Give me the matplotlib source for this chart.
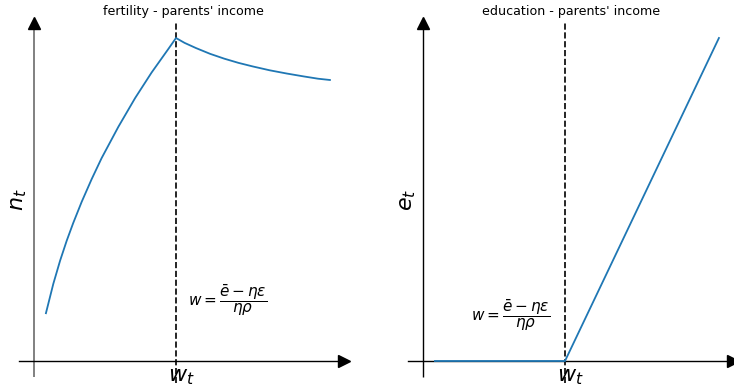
import matplotlib
matplotlib.use("Agg")
import matplotlib.pyplot as plt

# Threshold income w_t
w_threshold = 5.0

# Fertility as a function of parents' income
w_fert = [0.42, 0.68, 0.92, 1.15, 1.38, 1.68, 2.03, 2.38, 2.97, 3.56, 4.14,
          4.73, 5.0, 5.3, 5.7, 6.2, 6.7, 7.2, 7.7, 8.3, 8.9, 9.5, 10.0, 10.42]
n_fert = [1.48, 2.39, 3.11, 3.72, 4.27, 4.93, 5.63, 6.28, 7.25, 8.14, 8.93,
          9.66, 10.0, 9.85, 9.69, 9.51, 9.36, 9.23, 9.12, 9.0, 8.9, 8.81,
          8.74, 8.7]

# Education as a function of parents' income
w_edu = [0.42, 5.0, 10.42]
e_edu = [0.0, 0.0, 10.0]

titles = ["fertility - parents' income", "education - parents' income"]
ylabels = ["$n_t$", "$e_t$"]
xlabel = "$w_t$"
formula = r"$w=\dfrac{\bar{e}-\eta\varepsilon}{\eta\rho}$"

W, H = 734, 391
fig = plt.figure(figsize=(W / 100, H / 100), dpi=100)

px_x = 28.4   # pixels per income unit
px_y = 32.3   # pixels per outcome unit
origin_y = 361


def make_axes(x0_px, x1_px, origin_x_px):
    ax = fig.add_axes([x0_px / W, 0, (x1_px - x0_px) / W, 1])
    ax.set_xlim((x0_px - origin_x_px) / px_x, (x1_px - origin_x_px) / px_x)
    ax.set_ylim((origin_y - H) / px_y, origin_y / px_y)
    ax.axis("off")
    return ax


axL = make_axes(0, 367, 34)
axR = make_axes(367, 734, 423)

panels = [
    (axL, titles[0], ylabels[0], "#808080", 1.4, 5.25),
    (axR, titles[1], ylabels[1], "k", 1.0, 5.2),
]

for ax, title, ylab, vcol, vlw, title_x in panels:
    # coordinate axes with arrow heads
    ax.plot([0, 0], [-0.5, 10.45], color=vcol, lw=vlw,
            solid_capstyle="butt", zorder=2)
    ax.plot([0], [10.45], marker="^", color="k", markersize=9, zorder=3)
    ax.plot([-0.53, 10.7], [0, 0], color="k", lw=1.0, zorder=2)
    ax.plot([10.92], [0], marker=">", color="k", markersize=9, zorder=3,
            clip_on=False)
    # threshold income
    ax.plot([w_threshold, w_threshold], [-0.68, 10.46], color="k", lw=1.2,
            ls="--", zorder=2)
    ax.text(w_threshold + 0.18, -0.48, xlabel, fontsize=16, ha="center",
            va="center")
    ax.text(-0.52, 5.0, ylab, fontsize=16, rotation=90, ha="center",
            va="center")
    ax.text(title_x, (origin_y - 12) / px_y, title, fontsize=9.1,
            ha="center", va="center")

axL.plot(w_fert, n_fert, color="#1f77b4", lw=1.3, zorder=4)
axR.plot(w_edu, e_edu, color="#1f77b4", lw=1.3, zorder=4)

axL.text((228 - 34) / px_x, (origin_y - 300) / px_y, formula, fontsize=11,
         ha="center", va="center")
axR.text((511 - 423) / px_x, (origin_y - 315) / px_y, formula, fontsize=11,
         ha="center", va="center")

fig.savefig("out.png", dpi=100)
